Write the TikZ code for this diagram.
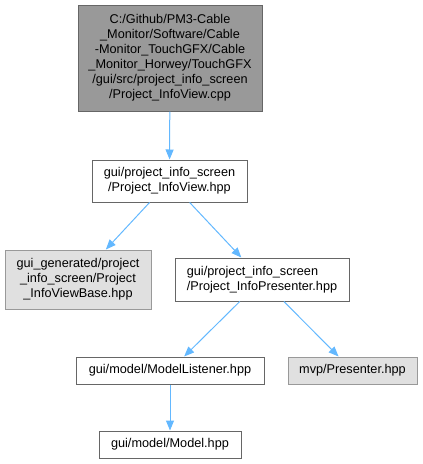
\documentclass[tikz,border=0pt]{standalone}
\usepackage{fontspec}
\setmainfont{Liberation Sans}
\usetikzlibrary{arrows.meta}
\definecolor{edgeblue}{HTML}{63B8FF}
\definecolor{topfill}{HTML}{999999}
\definecolor{topdraw}{HTML}{666666}
\definecolor{grayfill}{HTML}{E0E0E0}
\definecolor{graydraw}{HTML}{999999}
\tikzset{
  box/.style={draw=topdraw, fill=white, line width=1pt, inner sep=0pt, rectangle,
    font=\fontsize{12.7}{15}\selectfont, align=center},
  topbox/.style={box, fill=topfill},
  graybox/.style={box, draw=graydraw, fill=grayfill},
  dep/.style={draw=edgeblue, line width=1pt, -{Triangle[length=10pt,width=8pt]}}
}
\begin{document}
\begin{tikzpicture}[x=1pt,y=-1pt]
\useasboundingbox (0,0) rectangle (423,464);
\node[topbox, minimum width=184, minimum height=106] (cpp) at (170,58)
  {C:/Github/PM3-Cable\\\_Monitor/Software/Cable\\-Monitor\_TouchGFX/Cable\\\_Monitor\_Horwey/TouchGFX\\/gui/src/project\_info\_screen\\/Project\_InfoView.cpp};
\node[box, minimum width=155, minimum height=42] (view) at (169.5,181)
  {gui/project\_info\_screen\\/Project\_InfoView.hpp};
\node[graybox, minimum width=146, minimum height=59] (base) at (78,279.5)
  {gui\_generated/project\\\_info\_screen/Project\\\_InfoViewBase.hpp};
\node[box, minimum width=174, minimum height=43, align=left] (pres) at (262,279.5)
  {gui/project\_info\_screen\\/Project\_InfoPresenter.hpp};
\node[box, minimum width=188, minimum height=27] (listener) at (170,370.5)
  {gui/model/ModelListener.hpp};
\node[graybox, minimum width=129, minimum height=27] (mvp) at (352.5,370.5)
  {mvp/Presenter.hpp};
\node[box, minimum width=142, minimum height=27] (model) at (170,444.5)
  {gui/model/Model.hpp};
\draw[dep] (cpp) -- (view);
\draw[dep] (view) -- (base);
\draw[dep] (view) -- (pres);
\draw[dep] (pres) -- (listener);
\draw[dep] (pres) -- (mvp);
\draw[dep] (listener) -- (model);
\end{tikzpicture}
\end{document}
